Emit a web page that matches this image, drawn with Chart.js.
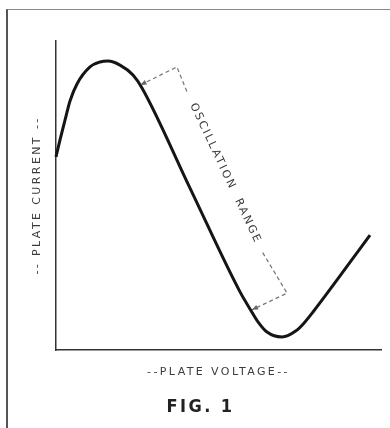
<!DOCTYPE html>
<html>
<head>
<meta charset="utf-8">
<script src="https://cdn.jsdelivr.net/npm/chart.js@4.4.0/dist/chart.umd.min.js"></script>
<style>
  html, body { margin: 0; padding: 0; background: #fff; }
  #frame {
    position: absolute; left: 6px; top: 9px; width: 400px; height: 440px;
    border-left: 2px solid #555; border-top: 1.5px solid #888;
  }
  #wrap { position: absolute; left: 0; top: 0; width: 390px; height: 428px; }
</style>
</head>
<body>
<div id="frame"></div>
<div id="wrap"><canvas id="fig"></canvas></div>
<script>
// curve (arbitrary units, 0-100 on both axes)
const plateVoltage = [0, 1.23, 2.77, 4.31, 6.46, 10.46, 13.54, 16.0, 19.69, 23.69, 26.46, 41.23, 56.62, 59.69, 62.15, 64.92, 69.54, 73.85, 76.62, 79.08, 96.62];
const plateCurrent = [62.5, 68.0, 74.4, 80.6, 86.1, 91.6, 93.2, 93.5, 92.2, 89.0, 84.8, 52.4, 18.8, 13.3, 9.1, 5.8, 4.2, 6.2, 9.1, 12.3, 37.2];

// oscillation range bracket: [voltage, current]
const upperLeader = [[26.0, 85.8], [37.2, 91.6], [40.6, 82.8]];   // arrow tip, corner, label start
const lowerLeader = [[63.6, 31.5], [71.1, 18.4], [60.3, 13.0]];   // label end, corner, arrow tip
const bracketLabel = 'OSCILLATION  RANGE';

const xTitle = '--PLATE VOLTAGE--';
const yTitle = '-- PLATE CURRENT --';
const figTitle = 'FIG. 1';

const toPoints = list => list.map(p => ({ x: p[0], y: p[1] }));

function drawArrow(ctx, from, to) {
  const ang = Math.atan2(to.y - from.y, to.x - from.x);
  const len = 6, half = 2.6;
  ctx.save();
  ctx.translate(to.x, to.y);
  ctx.rotate(ang);
  ctx.beginPath();
  ctx.moveTo(0, 0);
  ctx.lineTo(-len, -half);
  ctx.lineTo(-len, half);
  ctx.closePath();
  ctx.fillStyle = '#666';
  ctx.fill();
  ctx.restore();
}

const lettering = {
  id: 'lettering',
  beforeDraw(chart) {
    chart.ctx.letterSpacing = '2.4px';
  },
  afterDatasetsDraw(chart) {
    const { ctx, scales: { x, y } } = chart;
    const px = p => ({ x: x.getPixelForValue(p[0]), y: y.getPixelForValue(p[1]) });

    drawArrow(ctx, px(upperLeader[1]), px(upperLeader[0]));
    drawArrow(ctx, px(lowerLeader[1]), px(lowerLeader[2]));

    const a = px(upperLeader[2]), b = px(lowerLeader[0]);
    ctx.save();
    ctx.translate((a.x + b.x) / 2, (a.y + b.y) / 2);
    ctx.rotate(Math.atan2(b.y - a.y, b.x - a.x));
    ctx.font = '11px "DejaVu Sans"';
    ctx.letterSpacing = '2px';
    ctx.fillStyle = '#3c3c3c';
    ctx.textAlign = 'center';
    ctx.textBaseline = 'middle';
    ctx.fillText(bracketLabel, 0, 0);
    ctx.restore();
  }
};

const axisTitleFont = { family: 'DejaVu Sans', size: 11 };

new Chart(document.getElementById('fig'), {
  type: 'line',
  data: {
    datasets: [
      {
        data: plateVoltage.map((v, i) => ({ x: v, y: plateCurrent[i] })),
        borderColor: '#151515',
        borderWidth: 3,
        pointRadius: 0,
        cubicInterpolationMode: 'monotone',
        fill: false
      },
      {
        data: toPoints(upperLeader),
        borderColor: '#777',
        borderWidth: 1.2,
        borderDash: [4, 3],
        pointRadius: 0,
        tension: 0
      },
      {
        data: toPoints(lowerLeader),
        borderColor: '#777',
        borderWidth: 1.2,
        borderDash: [4, 3],
        pointRadius: 0,
        tension: 0
      }
    ]
  },
  options: {
    responsive: true,
    maintainAspectRatio: false,
    animation: false,
    clip: false,
    layout: { padding: { top: 41, left: 20, right: 9, bottom: 9.2 } },
    plugins: {
      legend: { display: false },
      tooltip: { enabled: false },
      title: {
        display: true,
        position: 'bottom',
        text: figTitle,
        color: '#222',
        font: { family: 'DejaVu Sans Condensed', size: 18, weight: 'bold' },
        padding: { top: 15, bottom: 1 }
      }
    },
    scales: {
      x: {
        type: 'linear',
        min: 0,
        max: 100,
        ticks: { display: false },
        grid: { display: false, drawTicks: false },
        border: { display: true, color: '#333', width: 1.6 },
        title: {
          display: true,
          text: xTitle,
          color: '#3c3c3c',
          font: axisTitleFont,
          padding: { top: 16, bottom: 2 }
        }
      },
      y: {
        min: 0,
        max: 100,
        ticks: { display: false },
        grid: { display: false, drawTicks: false },
        border: { display: true, color: '#333', width: 1.5 },
        title: {
          display: true,
          text: yTitle,
          color: '#3c3c3c',
          font: axisTitleFont,
          padding: { top: 10.4, bottom: 12.4 }
        }
      }
    }
  },
  plugins: [lettering]
});
</script>
</body>
</html>
